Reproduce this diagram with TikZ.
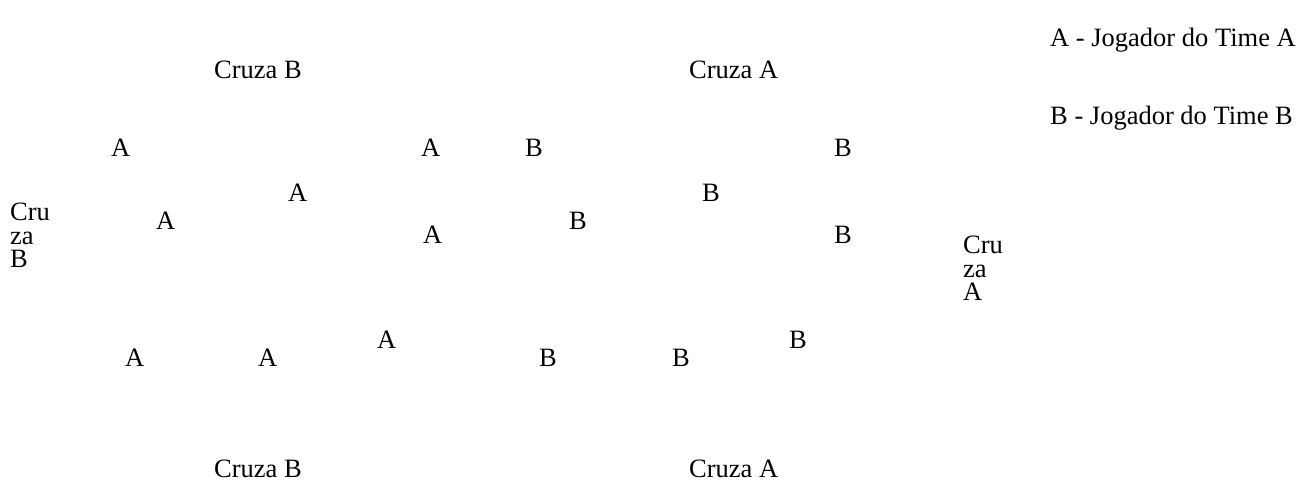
\documentclass[tikz,border=0pt]{standalone}
\usepackage{fontspec}
\setmainfont{Liberation Serif}
\begin{document}
\begin{tikzpicture}[x=1pt,y=-1pt,
  lbl/.style={anchor=base west,inner sep=0pt,font=\fontsize{26.5}{23}\selectfont},
  stack/.style={anchor=north west,inner sep=0pt,align=left,font=\fontsize{26.5}{23.5}\selectfont}]
\useasboundingbox[fill=white] (0,0) rectangle (1306,483);
% legend
\node[lbl] (legA) at (1050,46) {A - Jogador do Time A};
\node[lbl] (legB) at (1050,124) {B - Jogador do Time B};
% Cruza labels
\node[lbl] (ctb) at (214,78) {Cruza B};
\node[lbl] (cta) at (689,78) {Cruza A};
\node[lbl] (cbb) at (214,477) {Cruza B};
\node[lbl] (cba) at (689,477) {Cruza A};
\node[stack] (clb) at (10,203) {Cru\\za\\B};
\node[stack] (cra) at (963,236) {Cru\\za\\A};
% players
\node[lbl] (a1) at (111,156) {A};
\node[lbl] (a2) at (421,156) {A};
\node[lbl] (b1) at (525,156) {B};
\node[lbl] (b2) at (834,156) {B};
\node[lbl] (a3) at (288,201) {A};
\node[lbl] (b3) at (702,201) {B};
\node[lbl] (a4) at (156,229) {A};
\node[lbl] (b4) at (569,229) {B};
\node[lbl] (a5) at (423,243) {A};
\node[lbl] (b5) at (834,243) {B};
\node[lbl] (a6) at (125,366) {A};
\node[lbl] (a7) at (258,366) {A};
\node[lbl] (a8) at (377,348) {A};
\node[lbl] (b6) at (539,366) {B};
\node[lbl] (b7) at (672,366) {B};
\node[lbl] (b8) at (789,348) {B};
\end{tikzpicture}
\end{document}
